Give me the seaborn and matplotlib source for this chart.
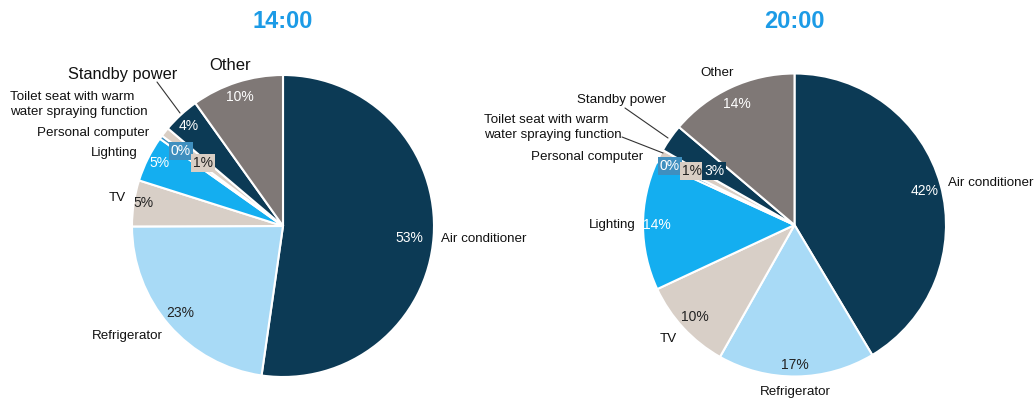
import matplotlib
matplotlib.use("Agg")
import matplotlib.pyplot as plt
import seaborn as sns
from matplotlib.lines import Line2D

# ---------------- data ----------------
categories = ["Air conditioner", "Refrigerator", "TV", "Lighting",
              "Personal computer", "Toilet seat with warm\nwater spraying function",
              "Standby power", "Other"]
values_1400 = [53, 23, 5, 5, 0.4, 1, 4, 10]
values_2000 = [42, 17, 10, 14, 0.4, 1, 3, 14]
titles = ["14:00", "20:00"]

# ---------------- style ----------------
sns.set_theme(style="white")
plt.rcParams['font.family'] = ['Liberation Sans', 'DejaVu Sans']

palette = sns.color_palette(["#0c3a55", "#a8daf6", "#d8cfc7", "#14aef0",
                             "#3f8fbf", "#d9cec4", "#0c3a55", "#7f7876"])
pct_colors = ["white", "#222222", "#222222", "white", "white", "#222222", "white", "white"]
title_color = "#1c9be6"

W, H = 1035, 399
fig = plt.figure(figsize=(W / 100, H / 100), dpi=100)

def fx(px):
    return px / W

def fy(py):
    return 1 - py / H

# layout: pie center (px), radius (px)
pies = [dict(cx=283, cy=226, r=151), dict(cx=794.5, cy=225, r=151.5)]

NS = 9.6  # name label size
name_layout = [
    {0: (441, 239, "left", NS), 1: (127, 336, "center", NS), 2: (117, 198, "center", NS),
     3: (138, 153, "right", NS), 4: (149, 133, "right", NS), 5: (10, 104.5, "left", NS),
     6: (123, 75, "center", 11.8), 7: (230, 65, "center", 12)},
    {0: (948, 183, "left", NS), 1: (795, 392, "center", NS), 2: (668, 339, "center", NS),
     3: (636, 225, "right", NS), 4: (643, 157, "right", NS), 5: (484, 127.5, "left", NS),
     6: (622, 100, "center", NS), 7: (717, 73, "center", NS)},
]
pct_layout = [
    {0: (409, 238), 1: (180, 313), 2: (144, 203), 3: (160, 163), 4: (181, 151),
     5: (203, 163), 6: (189, 126), 7: (240, 97)},
    {0: (925, 191), 1: (795, 365), 2: (695, 317), 3: (657, 225), 4: (670, 166),
     5: (692, 171), 6: (714, 171), 7: (737, 104)},
]
boxed_layout = [
    [False, False, False, False, True, True, False, False],
    [False, False, False, False, True, True, True, False],
]
leaders = [
    [((157, 82), (180, 113))],
    [((625, 108), (668, 138)), ((622, 137), (663, 153))],
]

for k, (vals, title) in enumerate(zip([values_1400, values_2000], titles)):
    p = pies[k]
    ax = fig.add_axes([fx(p["cx"] - p["r"]), fy(p["cy"] + p["r"]),
                       2 * p["r"] / W, 2 * p["r"] / H])
    ax.pie(vals, colors=palette, startangle=90, counterclock=False,
           wedgeprops=dict(edgecolor="white", linewidth=1.5))
    ax.set_xlim(-1, 1)
    ax.set_ylim(-1, 1)
    ax.set_aspect("auto")
    ax.axis("off")

    fig.text(fx(p["cx"]), fy(22), title, ha="center", va="center",
             fontsize=17, fontweight="bold", color=title_color)

    for i, (cat, v) in enumerate(zip(categories, vals)):
        x, y, ha, size = name_layout[k][i]
        fig.text(fx(x), fy(y), cat, ha=ha, va="center", fontsize=size,
                 color="#111111", linespacing=1.3, multialignment="left")
        px, py = pct_layout[k][i]
        kw = {}
        if boxed_layout[k][i]:
            kw["bbox"] = dict(boxstyle="square,pad=0.12", facecolor=palette[i],
                              edgecolor="none")
        fig.text(fx(px), fy(py), f"{round(v)}%", ha="center", va="center",
                 fontsize=10, color=pct_colors[i], **kw)

    for (a, b) in leaders[k]:
        fig.add_artist(Line2D([fx(a[0]), fx(b[0])], [fy(a[1]), fy(b[1])],
                              color="#333333", linewidth=0.8,
                              transform=fig.transFigure))

fig.savefig("out.png", dpi=100, facecolor="white")
